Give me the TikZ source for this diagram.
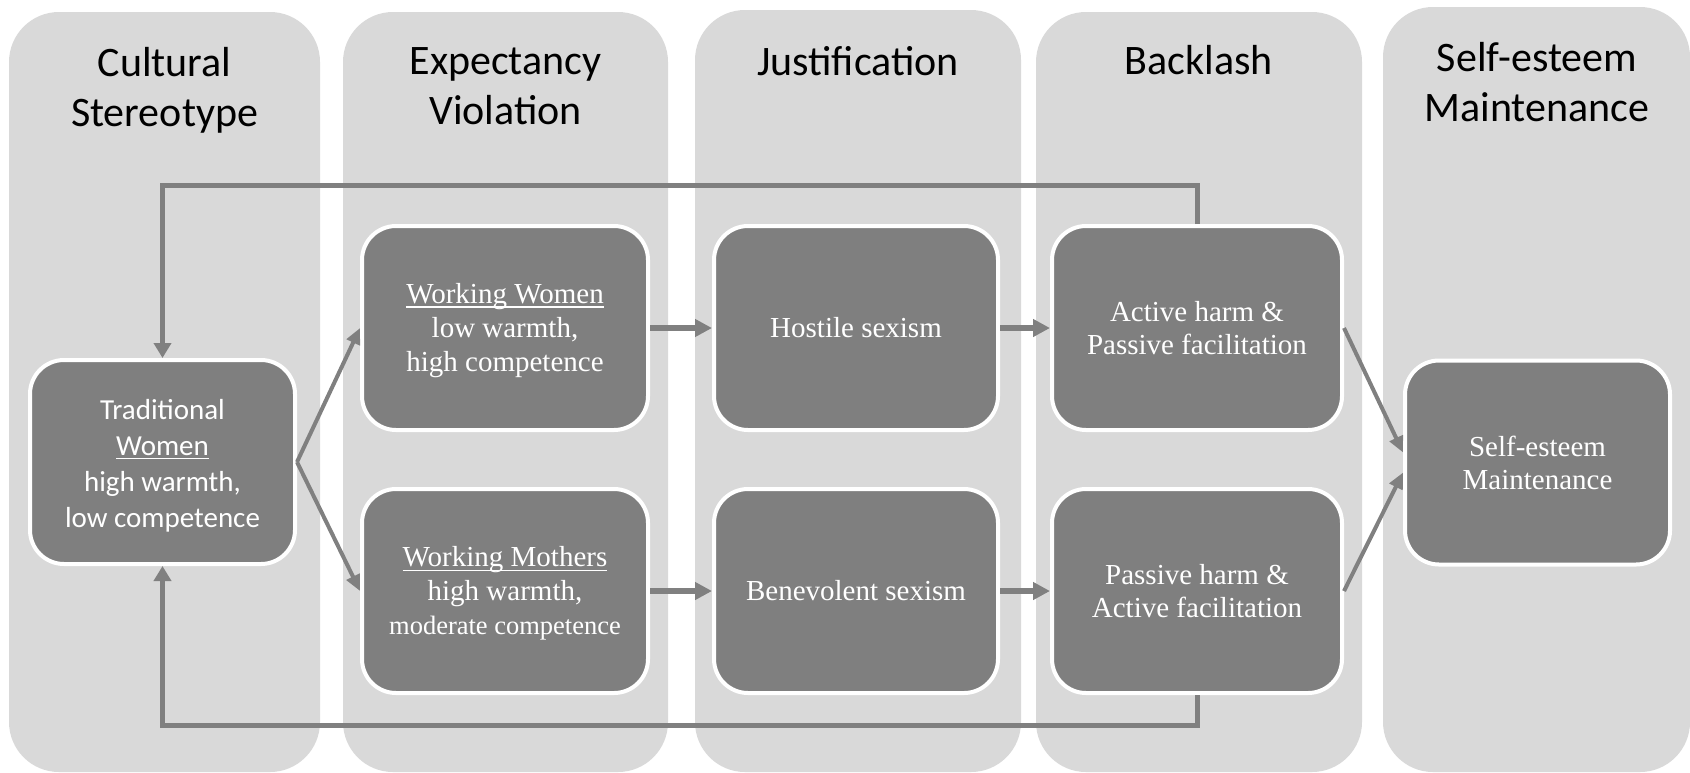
\documentclass[tikz,border=0pt]{standalone}
\usepackage{fontspec}
\setmainfont{Liberation Serif}
\newfontfamily\calib{Carlito}
\usetikzlibrary{arrows.meta}
\definecolor{colbg}{HTML}{D9D9D9}
\definecolor{boxfill}{HTML}{7F7F7F}
\definecolor{arrowc}{HTML}{808080}
\newcommand\myul[1]{\leavevmode\setbox0\hbox{#1}\rlap{\rule[-2.2pt]{\wd0}{0.65pt}}\box0}
\begin{document}
\begin{tikzpicture}[x=0.5pt,y=-0.5pt,
  colbox/.style={fill=colbg, rounded corners=25pt},
  title/.style={font={\calib\fontsize{21}{25}\selectfont}, align=center, text=black, inner sep=0pt},
  box/.style={fill=boxfill, draw=white, line width=2pt, rounded corners=17pt, text=white,
    align=center, minimum width=#1, minimum height=102pt, inner sep=0pt,
    font={\fontsize{14.5}{16.5}\selectfont}},
  thickarrow/.style={draw=arrowc, line width=3.35pt, -{Triangle[length=8.5pt,width=8.5pt]}},
  thinarrow/.style={draw=arrowc, line width=2pt, -{Triangle[length=8pt,width=7pt]}},
  fbarrow/.style={draw=arrowc, line width=2.5pt, line join=miter, -{Triangle[length=7.5pt,width=8.5pt]}}
]
\useasboundingbox (0,0) rectangle (1690,772);
% columns
\fill[colbox] (9,12) rectangle (320,772);
\fill[colbox] (343,12) rectangle (668,772);
\fill[colbox] (695,10) rectangle (1021,772);
\fill[colbox] (1036,12) rectangle (1362,772);
\fill[colbox] (1383,7) rectangle (1690,772);
% titles
\node[title] (t1) at (164.5,90) {Cultural\\Stereotype};
\node[title] (t2) at (505.5,86.5) {Expectancy\\Violation};
\node[title] (t3) at (858,61) {Justification};
\node[title] (t4) at (1199,60.5) {Backlash};
\node[title] (t5) at (1537,82.5) {Self-esteem\\Maintenance};
% boxes
\node[box=132.5pt, font={\calib\fontsize{14.5}{18}\selectfont}] (trad) at (162.5,462)
  {\rule{0pt}{13.4pt}Traditional\\\myul{Women}\\high warmth,\\low competence};
\node[box=143pt, font={\fontsize{14.5}{17}\selectfont}] (ww) at (505,328)
  {\rule{0pt}{12.5pt}\myul{Working Women}\\low warmth,\\high competence};
\node[box=143pt, font={\fontsize{14.5}{17}\selectfont}] (wm) at (505,591)
  {\rule{0pt}{12.5pt}\myul{Working Mothers}\\high warmth,\\{\fontsize{13.25}{17}\selectfont moderate competence}};
\node[box=142pt] (hs) at (856,328) {Hostile sexism};
\node[box=142pt] (bs) at (856,591) {Benevolent sexism};
\node[box=145pt] (ah) at (1197,328) {Active harm \&\\Passive facilitation};
\node[box=145pt] (ph) at (1197,591) {Passive harm \&\\Active facilitation};
\node[box=132.5pt] (se) at (1537.5,462.5) {Self-esteem\\Maintenance};
% connectors
\draw[thinarrow] (trad.east) -- (ww.west);
\draw[thinarrow] (trad.east) -- (wm.west);
\draw[thickarrow] (ww.east) -- (hs.west);
\draw[thickarrow] (wm.east) -- (bs.west);
\draw[thickarrow] (hs.east) -- (ah.west);
\draw[thickarrow] (bs.east) -- (ph.west);
\draw[thinarrow] (ah.east) -- ([yshift=5pt]se.west);
\draw[thinarrow] (ph.east) -- ([yshift=-5pt]se.west);
\coordinate (fbtop) at (162.5,185);
\coordinate (fbbot) at (162.5,725);
\draw[fbarrow] (ah.north) |- (fbtop) -- (trad.north);
\draw[fbarrow] (ph.south) |- (fbbot) -- (trad.south);
\end{tikzpicture}
\end{document}
